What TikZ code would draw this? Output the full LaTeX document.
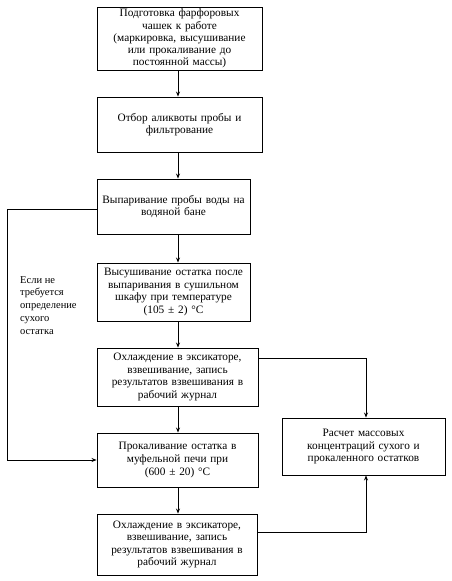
\documentclass[tikz,border=0pt]{standalone}
\usepackage{fontspec}
\setmainfont{Liberation Serif}
\usetikzlibrary{arrows.meta}
\begin{document}
\begin{tikzpicture}[x=1pt,y=-1pt,
  box/.style={draw, line width=0.9pt, align=center, inner xsep=1pt, inner ysep=0pt,
    font=\fontsize{11.3}{12.6}\selectfont},
  arr/.style={line width=0.8pt, -{Stealth[length=5pt,width=4pt]}},
  lbl/.style={align=left, font=\fontsize{10.5}{12.8}\selectfont, inner sep=0pt, anchor=north west}]
\useasboundingbox[fill=white] (0,0) rectangle (451,581);
\node[box, minimum width=165pt, minimum height=63pt, text width=162pt,
  font=\fontsize{11.3}{12.2}\selectfont] (b1) at (179.5,38.5)
  {Подготовка фарфоровых\\чашек к работе\\(маркировка, высушивание\\или прокаливание до\\постоянной массы)};
\node[box, minimum width=165pt, minimum height=55pt, text width=162pt] (b2) at (179.5,124.5)
  {Отбор аликвоты пробы и\\фильтрование};
\node[box, minimum width=153pt, minimum height=55pt, text width=150pt] (b3) at (173.5,206.5)
  {Выпаривание пробы воды на\\водяной бане};
\node[box, minimum width=153pt, minimum height=58pt, text width=150pt] (b4) at (173.5,292)
  {Высушивание остатка после\\выпаривания в сушильном\\шкафу при температуре\\(105 ± 2) °C};
\node[box, minimum width=161pt, minimum height=58pt, text width=158pt] (b5) at (177.5,377)
  {Охлаждение в эксикаторе,\\взвешивание, запись\\результатов взвешивания в\\рабочий журнал};
\node[box, minimum width=161pt, minimum height=54pt, text width=158pt] (b7) at (177.5,460)
  {Прокаливание остатка в\\муфельной печи при\\(600 ± 20) °C};
\node[box, minimum width=160pt, minimum height=61pt, text width=157pt] (b8) at (177,544.5)
  {Охлаждение в эксикаторе,\\взвешивание, запись\\результатов взвешивания в\\рабочий журнал};
\node[box, minimum width=163pt, minimum height=57pt, text width=160pt] (b6) at (363.5,446.5)
  {Расчет массовых\\концентраций сухого и\\прокаленного остатков};
\node[lbl] (note) at (20,276) {Если не\\требуется\\определение\\сухого\\остатка};
\coordinate (cx) at (178,0);
\coordinate (rx) at (366,0);
\coordinate (lx) at (7,0);
\draw[arr] (b1.south -| cx) -- (b2.north -| cx);
\draw[arr] (b2.south -| cx) -- (b3.north -| cx);
\draw[arr] (b3.south -| cx) -- (b4.north -| cx);
\draw[arr] (b4.south -| cx) -- (b5.north -| cx);
\draw[arr] (b5.south -| cx) -- (b7.north -| cx);
\draw[arr] (b7.south -| cx) -- (b8.north -| cx);
\coordinate (r1) at (b5.east |- 0,358);
\coordinate (r2) at (b8.east |- 0,532);
\draw[arr] (r1) -| (b6.north -| rx);
\draw[arr] (r2) -| (b6.south -| rx);
\coordinate (l1) at (b3.west |- 0,209);
\draw[arr] (l1) -- (l1 -| lx) |- (b7.west);
\end{tikzpicture}
\end{document}
